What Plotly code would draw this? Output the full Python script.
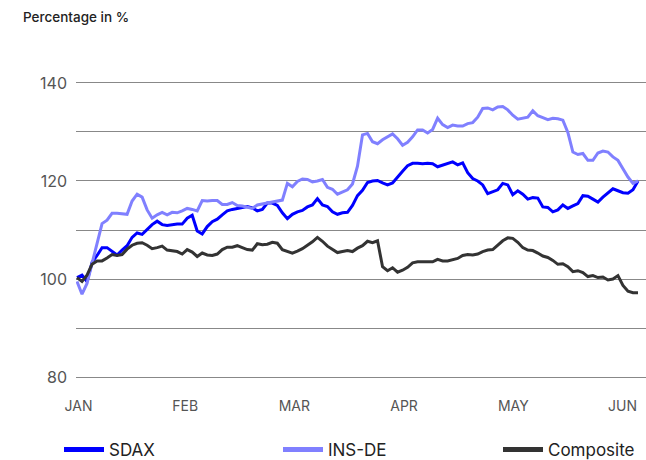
import plotly.graph_objects as go

# ---- data ----
month_labels = ["JAN", "FEB", "MAR", "APR", "MAY", "JUN"]
month_tick_index = [0.3, 21.6, 43.4, 65.3, 87.1, 108.9]

sdax = [100.3, 100.8, 99.5, 103.4, 104.8, 106.4, 106.4, 105.7, 104.9, 105.9,
        106.8, 108.5, 109.4, 109.1, 110.1, 111.1, 111.8, 111.1, 110.9, 111.1,
        111.2, 111.2, 112.4, 113.0, 109.8, 109.2, 110.7, 111.7, 112.2, 113.1,
        113.9, 114.2, 114.4, 114.5, 114.8, 114.5, 113.9, 114.2, 115.5, 115.5,
        115.0, 113.5, 112.3, 113.2, 113.7, 114.0, 114.7, 115.1, 116.4, 115.1,
        114.8, 113.7, 113.2, 113.5, 113.6, 115.0, 117.0, 118.1, 119.7, 120.0,
        120.1, 119.6, 119.2, 119.6, 120.9, 122.0, 123.1, 123.6, 123.6, 123.5,
        123.6, 123.5, 122.9, 123.2, 123.6, 123.9, 123.3, 123.7, 121.7, 120.5,
        120.0, 119.2, 117.4, 117.8, 118.2, 119.5, 119.2, 117.2, 118.0, 117.3,
        116.3, 116.6, 116.5, 114.7, 114.6, 113.7, 114.1, 115.1, 114.4, 114.9,
        115.4, 117.0, 116.9, 116.3, 115.7, 116.7, 117.6, 118.4, 118.0, 117.6,
        117.5, 118.2, 120.0]

ins_de = [99.5, 96.9, 99.1, 103.3, 107.7, 111.3, 112.0, 113.4, 113.4, 113.3,
          113.2, 115.9, 117.3, 116.7, 114.1, 112.4, 113.1, 113.6, 113.1, 113.6,
          113.5, 113.9, 114.4, 114.2, 113.9, 116.0, 115.9, 116.0, 116.0, 115.2,
          115.2, 115.6, 115.0, 114.9, 114.7, 114.4, 115.1, 115.3, 115.5, 115.7,
          115.8, 116.1, 119.5, 118.8, 119.9, 120.4, 120.3, 119.8, 120.0, 120.3,
          118.7, 118.3, 117.3, 117.8, 118.2, 119.4, 123.0, 129.4, 129.7, 128.0,
          127.6, 128.4, 129.0, 129.6, 128.6, 127.3, 127.9, 129.0, 130.4, 130.4,
          129.8, 130.5, 132.8, 131.5, 130.9, 131.4, 131.2, 131.2, 131.7, 131.9,
          133.0, 134.8, 134.9, 134.5, 135.1, 135.2, 134.5, 133.4, 132.6, 132.8,
          133.0, 134.3, 133.3, 132.9, 132.5, 132.8, 132.7, 132.4, 129.9, 125.9,
          125.4, 125.6, 124.2, 124.2, 125.7, 126.1, 125.9, 124.9, 124.2, 122.5,
          120.8, 119.5, 120.0]

composite = [100.3, 99.5, 100.8, 103.0, 103.7, 103.7, 104.3, 105.0, 104.8, 105.0,
             106.1, 106.9, 107.3, 107.4, 106.9, 106.2, 106.4, 106.7, 105.9, 105.7,
             105.6, 105.1, 106.0, 105.5, 104.6, 105.3, 104.9, 104.8, 105.1, 106.0,
             106.5, 106.5, 106.8, 106.4, 106.0, 105.9, 107.2, 107.0, 107.1, 107.5,
             107.3, 106.0, 105.6, 105.3, 105.7, 106.2, 106.9, 107.6, 108.5, 107.7,
             106.7, 106.0, 105.4, 105.6, 105.8, 105.6, 106.3, 106.8, 107.7, 107.4,
             107.8, 102.5, 101.7, 102.3, 101.4, 101.8, 102.4, 103.3, 103.5, 103.5,
             103.5, 103.5, 104.0, 103.7, 103.7, 103.9, 104.2, 104.8, 105.0, 104.9,
             105.1, 105.6, 105.9, 106.0, 106.9, 107.8, 108.4, 108.3, 107.5, 106.4,
             105.9, 105.8, 105.3, 104.7, 104.4, 103.8, 103.0, 103.1, 102.5, 101.5,
             101.7, 101.3, 100.5, 100.7, 100.3, 100.4, 99.8, 100.0, 100.7, 98.7,
             97.5, 97.2, 97.2]

y_tick_values = [80, 90, 100, 110, 120, 130, 140]
y_tick_labels = ["80", "", "100", "", "120", "", "140"]

series_names = ["SDAX", "INS-DE", "Composite"]
series_colors = ["#0000ff", "#8080ff", "#333333"]

day_index = list(range(len(sdax)))

FONT = "Inter"

fig = go.Figure()
for name, vals, col in zip(series_names, [sdax, ins_de, composite], series_colors):
    fig.add_trace(go.Scatter(x=day_index, y=vals, mode="lines", name=name,
                             line=dict(color=col, width=3), showlegend=False,
                             hoverinfo="skip"))

legend_ids = ["legend", "legend2", "legend3"]
legend_left_px = [59, 278, 498]
for name, col, lid in zip(series_names, series_colors, legend_ids):
    fig.add_trace(go.Scatter(x=[None], y=[None], mode="lines", name=name,
                             line=dict(color=col, width=5), showlegend=True,
                             legend=lid))

legend_common = dict(orientation="h", xref="container", yref="container",
                     y=1 - 450 / 460, xanchor="left", yanchor="middle",
                     itemwidth=40,
                     font=dict(size=17, color="#222222", family=FONT),
                     bgcolor="rgba(0,0,0,0)")

fig.update_layout(
    width=646, height=460,
    margin=dict(l=76, r=0, t=78, b=78, autoexpand=False),
    paper_bgcolor="white", plot_bgcolor="white",
    font=dict(family=FONT, color="#333333"),
    title=dict(text="Percentage in %", xref="container", yref="container",
               x=23 / 646, y=1 - 17 / 460, xanchor="left", yanchor="middle",
               font=dict(size=13.5, color="#222222", family=FONT, weight=500)),
    xaxis=dict(range=[-0.2, 113.6], showgrid=False, zeroline=False,
               showline=False, ticks="", tickmode="array", automargin=False,
               tickvals=month_tick_index, ticktext=month_labels,
               tickfont=dict(size=14, color="#555555", family=FONT),
               ticklabelstandoff=14),
    yaxis=dict(range=[79, 141], showgrid=True, gridcolor="#888888", gridwidth=1,
               zeroline=False, showline=False, ticks="", tickmode="array",
               automargin=False,
               tickvals=y_tick_values, ticktext=y_tick_labels,
               tickfont=dict(size=16, color="#555555", family=FONT),
               ticklabelstandoff=8),
    legend=dict(x=legend_left_px[0] / 646, **legend_common),
    legend2=dict(x=legend_left_px[1] / 646, **legend_common),
    legend3=dict(x=legend_left_px[2] / 646, **legend_common),
)

fig.write_html("out.html",
               config={"displayModeBar": False},
               post_script="document.body.style.margin='0';"
                           "document.body.style.overflow='hidden';")
